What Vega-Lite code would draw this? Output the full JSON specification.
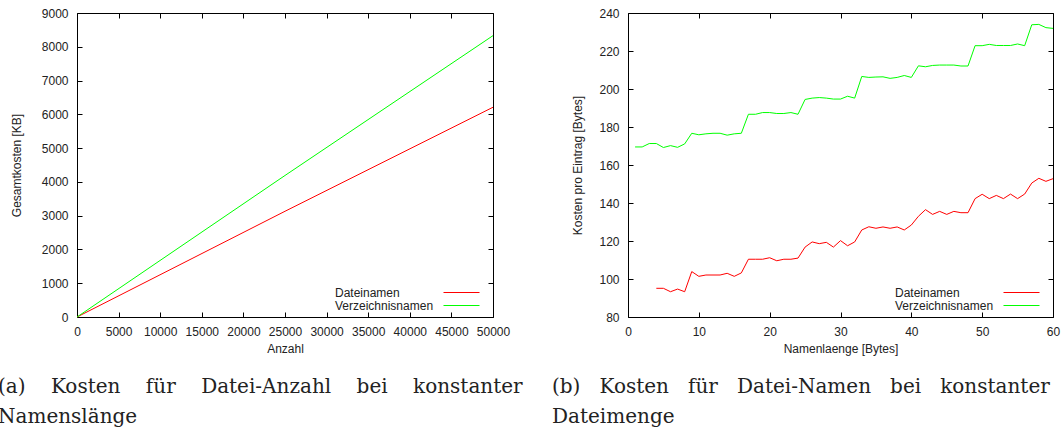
{
  "$schema": "https://vega.github.io/schema/vega-lite/v6.json",
  "background": "white",
  "padding": {"left": -3, "top": 6, "right": 2, "bottom": 0},
  "bounds": "flush",
  "spacing": 135,
  "config": {
    "view": {"stroke": "black", "strokeWidth": 1},
    "axis": {
      "labelFont": "Liberation Sans", "labelFontSize": 12, "labelColor": "#222", "labelOverlap": false, "labelFlush": false,
      "titleFont": "Liberation Sans", "titleFontSize": 12, "titleFontWeight": "normal", "titleColor": "#222",
      "domain": false, "grid": false, "tickColor": "black", "tickSize": -5, "labelPadding": 14
    },
    "legend": {
      "labelFont": "Liberation Sans", "labelFontSize": 12, "labelColor": "#222"
    },
    "title": {"font": "DejaVu Serif", "fontSize": 20, "fontWeight": "normal", "color": "#222"}
  },
  "datasets": {
    "anzahl": [
      {"anzahl": 0, "kosten": 0, "typ": "Dateinamen"},
      {"anzahl": 25000, "kosten": 3130, "typ": "Dateinamen"},
      {"anzahl": 50000, "kosten": 6210, "typ": "Dateinamen"},
      {"anzahl": 0, "kosten": 0, "typ": "Verzeichnisnamen"},
      {"anzahl": 25000, "kosten": 4190, "typ": "Verzeichnisnamen"},
      {"anzahl": 50000, "kosten": 8330, "typ": "Verzeichnisnamen"}
    ],
    "laenge": [
      {"len": 4, "k": 95.1, "typ": "Dateinamen"}, {"len": 5, "k": 95.1, "typ": "Dateinamen"},
      {"len": 6, "k": 93.3, "typ": "Dateinamen"}, {"len": 7, "k": 94.7, "typ": "Dateinamen"},
      {"len": 8, "k": 93.3, "typ": "Dateinamen"}, {"len": 9, "k": 103.9, "typ": "Dateinamen"},
      {"len": 10, "k": 101.4, "typ": "Dateinamen"}, {"len": 11, "k": 102.1, "typ": "Dateinamen"},
      {"len": 12, "k": 102.1, "typ": "Dateinamen"}, {"len": 13, "k": 102.1, "typ": "Dateinamen"},
      {"len": 14, "k": 103.0, "typ": "Dateinamen"}, {"len": 15, "k": 101.4, "typ": "Dateinamen"},
      {"len": 16, "k": 103.2, "typ": "Dateinamen"}, {"len": 17, "k": 110.4, "typ": "Dateinamen"},
      {"len": 18, "k": 110.4, "typ": "Dateinamen"}, {"len": 19, "k": 110.4, "typ": "Dateinamen"},
      {"len": 20, "k": 111.2, "typ": "Dateinamen"}, {"len": 21, "k": 109.6, "typ": "Dateinamen"},
      {"len": 22, "k": 110.4, "typ": "Dateinamen"}, {"len": 23, "k": 110.4, "typ": "Dateinamen"},
      {"len": 24, "k": 111.0, "typ": "Dateinamen"}, {"len": 25, "k": 116.8, "typ": "Dateinamen"},
      {"len": 26, "k": 119.5, "typ": "Dateinamen"}, {"len": 27, "k": 118.6, "typ": "Dateinamen"},
      {"len": 28, "k": 119.3, "typ": "Dateinamen"}, {"len": 29, "k": 116.8, "typ": "Dateinamen"},
      {"len": 30, "k": 120.2, "typ": "Dateinamen"}, {"len": 31, "k": 117.5, "typ": "Dateinamen"},
      {"len": 32, "k": 119.5, "typ": "Dateinamen"}, {"len": 33, "k": 125.8, "typ": "Dateinamen"},
      {"len": 34, "k": 127.5, "typ": "Dateinamen"}, {"len": 35, "k": 126.7, "typ": "Dateinamen"},
      {"len": 36, "k": 127.4, "typ": "Dateinamen"}, {"len": 37, "k": 126.7, "typ": "Dateinamen"},
      {"len": 38, "k": 127.4, "typ": "Dateinamen"}, {"len": 39, "k": 125.8, "typ": "Dateinamen"},
      {"len": 40, "k": 128.4, "typ": "Dateinamen"}, {"len": 41, "k": 133.0, "typ": "Dateinamen"},
      {"len": 42, "k": 136.5, "typ": "Dateinamen"}, {"len": 43, "k": 134.0, "typ": "Dateinamen"},
      {"len": 44, "k": 135.6, "typ": "Dateinamen"}, {"len": 45, "k": 134.0, "typ": "Dateinamen"},
      {"len": 46, "k": 135.6, "typ": "Dateinamen"}, {"len": 47, "k": 134.9, "typ": "Dateinamen"},
      {"len": 48, "k": 134.9, "typ": "Dateinamen"}, {"len": 49, "k": 142.3, "typ": "Dateinamen"},
      {"len": 50, "k": 144.6, "typ": "Dateinamen"}, {"len": 51, "k": 142.3, "typ": "Dateinamen"},
      {"len": 52, "k": 144.0, "typ": "Dateinamen"}, {"len": 53, "k": 142.3, "typ": "Dateinamen"},
      {"len": 54, "k": 144.7, "typ": "Dateinamen"}, {"len": 55, "k": 142.3, "typ": "Dateinamen"},
      {"len": 56, "k": 144.7, "typ": "Dateinamen"}, {"len": 57, "k": 150.5, "typ": "Dateinamen"},
      {"len": 58, "k": 153.0, "typ": "Dateinamen"}, {"len": 59, "k": 151.4, "typ": "Dateinamen"},
      {"len": 60, "k": 152.8, "typ": "Dateinamen"},
      {"len": 1, "k": 169.5, "typ": "Verzeichnisnamen"}, {"len": 2, "k": 169.5, "typ": "Verzeichnisnamen"},
      {"len": 3, "k": 171.3, "typ": "Verzeichnisnamen"}, {"len": 4, "k": 171.3, "typ": "Verzeichnisnamen"},
      {"len": 5, "k": 169.2, "typ": "Verzeichnisnamen"}, {"len": 6, "k": 170.2, "typ": "Verzeichnisnamen"},
      {"len": 7, "k": 169.3, "typ": "Verzeichnisnamen"}, {"len": 8, "k": 171.1, "typ": "Verzeichnisnamen"},
      {"len": 9, "k": 176.7, "typ": "Verzeichnisnamen"}, {"len": 10, "k": 175.9, "typ": "Verzeichnisnamen"},
      {"len": 11, "k": 176.4, "typ": "Verzeichnisnamen"}, {"len": 12, "k": 176.7, "typ": "Verzeichnisnamen"},
      {"len": 13, "k": 176.7, "typ": "Verzeichnisnamen"}, {"len": 14, "k": 175.7, "typ": "Verzeichnisnamen"},
      {"len": 15, "k": 176.4, "typ": "Verzeichnisnamen"}, {"len": 16, "k": 176.7, "typ": "Verzeichnisnamen"},
      {"len": 17, "k": 186.7, "typ": "Verzeichnisnamen"}, {"len": 18, "k": 186.7, "typ": "Verzeichnisnamen"},
      {"len": 19, "k": 187.6, "typ": "Verzeichnisnamen"}, {"len": 20, "k": 187.6, "typ": "Verzeichnisnamen"},
      {"len": 21, "k": 187.1, "typ": "Verzeichnisnamen"}, {"len": 22, "k": 187.1, "typ": "Verzeichnisnamen"},
      {"len": 23, "k": 187.6, "typ": "Verzeichnisnamen"}, {"len": 24, "k": 186.7, "typ": "Verzeichnisnamen"},
      {"len": 25, "k": 194.5, "typ": "Verzeichnisnamen"}, {"len": 26, "k": 195.2, "typ": "Verzeichnisnamen"},
      {"len": 27, "k": 195.5, "typ": "Verzeichnisnamen"}, {"len": 28, "k": 195.2, "typ": "Verzeichnisnamen"},
      {"len": 29, "k": 194.7, "typ": "Verzeichnisnamen"}, {"len": 30, "k": 194.7, "typ": "Verzeichnisnamen"},
      {"len": 31, "k": 196.2, "typ": "Verzeichnisnamen"}, {"len": 32, "k": 195.2, "typ": "Verzeichnisnamen"},
      {"len": 33, "k": 206.6, "typ": "Verzeichnisnamen"}, {"len": 34, "k": 206.1, "typ": "Verzeichnisnamen"},
      {"len": 35, "k": 206.3, "typ": "Verzeichnisnamen"}, {"len": 36, "k": 206.4, "typ": "Verzeichnisnamen"},
      {"len": 37, "k": 205.6, "typ": "Verzeichnisnamen"}, {"len": 38, "k": 206.1, "typ": "Verzeichnisnamen"},
      {"len": 39, "k": 207.1, "typ": "Verzeichnisnamen"}, {"len": 40, "k": 206.1, "typ": "Verzeichnisnamen"},
      {"len": 41, "k": 212.2, "typ": "Verzeichnisnamen"}, {"len": 42, "k": 211.7, "typ": "Verzeichnisnamen"},
      {"len": 43, "k": 212.4, "typ": "Verzeichnisnamen"}, {"len": 44, "k": 212.6, "typ": "Verzeichnisnamen"},
      {"len": 45, "k": 212.6, "typ": "Verzeichnisnamen"}, {"len": 46, "k": 212.6, "typ": "Verzeichnisnamen"},
      {"len": 47, "k": 212.1, "typ": "Verzeichnisnamen"}, {"len": 48, "k": 212.1, "typ": "Verzeichnisnamen"},
      {"len": 49, "k": 222.8, "typ": "Verzeichnisnamen"}, {"len": 50, "k": 222.8, "typ": "Verzeichnisnamen"},
      {"len": 51, "k": 223.5, "typ": "Verzeichnisnamen"}, {"len": 52, "k": 222.9, "typ": "Verzeichnisnamen"},
      {"len": 53, "k": 222.9, "typ": "Verzeichnisnamen"}, {"len": 54, "k": 222.9, "typ": "Verzeichnisnamen"},
      {"len": 55, "k": 223.7, "typ": "Verzeichnisnamen"}, {"len": 56, "k": 222.8, "typ": "Verzeichnisnamen"},
      {"len": 57, "k": 233.8, "typ": "Verzeichnisnamen"}, {"len": 58, "k": 234.0, "typ": "Verzeichnisnamen"},
      {"len": 59, "k": 232.3, "typ": "Verzeichnisnamen"}, {"len": 60, "k": 231.9, "typ": "Verzeichnisnamen"}
    ]
  },
  "resolve": {"scale": {"color": "independent"}, "legend": {"color": "independent"}},
  "hconcat": [
    {
      "width": 416, "height": 304,
      "data": {"name": "anzahl"},
      "title": {"text": ["(a) \u00a0\u00a0\u00a0Kosten \u00a0\u00a0\u00a0für \u00a0\u00a0\u00a0Datei-Anzahl \u00a0\u00a0\u00a0bei \u00a0\u00a0\u00a0konstanter", "Namenslänge"], "orient": "bottom", "anchor": "start", "frame": "group", "dx": -79, "offset": 23, "lineHeight": 30},
      "resolve": {"axis": {"x": "independent", "y": "independent"}},
      "layer": [
        {
          "mark": {"type": "line", "strokeWidth": 1},
          "encoding": {
            "x": {"field": "anzahl", "type": "quantitative", "scale": {"domain": [0, 50000], "nice": false, "zero": false}, "axis": {"title": "Anzahl", "values": [0,5000,10000,15000,20000,25000,30000,35000,40000,45000,50000], "format": "d", "titlePadding": 6}},
            "y": {"field": "kosten", "type": "quantitative", "scale": {"domain": [0, 9000], "nice": false, "zero": false}, "axis": {"title": "Gesamtkosten [KB]", "values": [0,1000,2000,3000,4000,5000,6000,7000,8000,9000], "format": "d", "titlePadding": 18}},
            "color": {"field": "typ", "type": "nominal", "scale": {"domain": ["Dateinamen", "Verzeichnisnamen"], "range": ["#ff0000", "#00ff00"]},
              "legend": {"title": null, "orient": "none", "legendX": 378, "legendY": 273, "symbolType": "M-3,0L3,0", "symbolSize": 144, "symbolStrokeWidth": 1, "labelAlign": "left", "labelOffset": -133, "rowPadding": -2, "padding": 0,
                "encode": {
                  "symbols": {"update": {"stroke": {"signal": "datum.value === 'Dateinamen' ? '#ff0000' : '#00ff00'"}}},
                  "labels": {"update": {"text": {"signal": "datum.value === 'Dateinamen' ? '\u00a0\u00a0\u00a0\u00a0\u00a0\u00a0\u00a0\u00a0\u00a0\u00a0Dateinamen' : datum.value"}}}
                }}}
          }
        },
        {
          "mark": {"type": "line", "strokeWidth": 1, "opacity": 0},
          "encoding": {
            "x": {"field": "anzahl", "type": "quantitative", "scale": {"domain": [0, 50000], "nice": false, "zero": false}, "axis": {"orient": "top", "labels": false, "title": null, "values": [0,5000,10000,15000,20000,25000,30000,35000,40000,45000,50000]}},
            "y": {"field": "kosten", "type": "quantitative", "scale": {"domain": [0, 9000], "nice": false, "zero": false}, "axis": {"orient": "right", "labels": false, "title": null, "values": [0,1000,2000,3000,4000,5000,6000,7000,8000,9000]}}
          }
        }
      ]
    },
    {
      "width": 425, "height": 304,
      "data": {"name": "laenge"},
      "title": {"text": ["(b) \u00a0\u00a0Kosten \u00a0\u00a0für \u00a0\u00a0Datei-Namen \u00a0\u00a0bei \u00a0\u00a0konstanter", "Dateimenge"], "orient": "bottom", "anchor": "start", "frame": "group", "dx": -76, "offset": 23, "lineHeight": 30},
      "resolve": {"axis": {"x": "independent", "y": "independent"}},
      "layer": [
        {
          "mark": {"type": "line", "strokeWidth": 1},
          "encoding": {
            "x": {"field": "len", "type": "quantitative", "scale": {"domain": [0, 60], "nice": false, "zero": false}, "axis": {"title": "Namenlaenge [Bytes]", "values": [0,10,20,30,40,50,60], "titlePadding": 6}},
            "y": {"field": "k", "type": "quantitative", "scale": {"domain": [80, 240], "nice": false, "zero": false}, "axis": {"title": "Kosten pro Eintrag [Bytes]", "values": [80,100,120,140,160,180,200,220,240], "titlePadding": 14}},
            "color": {"field": "typ", "type": "nominal", "scale": {"domain": ["Dateinamen", "Verzeichnisnamen"], "range": ["#ff0000", "#00ff00"]},
              "legend": {"title": null, "orient": "none", "legendX": 387, "legendY": 273, "symbolType": "M-3,0L3,0", "symbolSize": 144, "symbolStrokeWidth": 1, "labelAlign": "left", "labelOffset": -133, "rowPadding": -2, "padding": 0,
                "encode": {
                  "symbols": {"update": {"stroke": {"signal": "datum.value === 'Dateinamen' ? '#ff0000' : '#00ff00'"}}},
                  "labels": {"update": {"text": {"signal": "datum.value === 'Dateinamen' ? '\u00a0\u00a0\u00a0\u00a0\u00a0\u00a0\u00a0\u00a0\u00a0\u00a0Dateinamen' : datum.value"}}}
                }}}
          }
        },
        {
          "mark": {"type": "line", "strokeWidth": 1, "opacity": 0},
          "encoding": {
            "x": {"field": "len", "type": "quantitative", "scale": {"domain": [0, 60], "nice": false, "zero": false}, "axis": {"orient": "top", "labels": false, "title": null, "values": [0,10,20,30,40,50,60]}},
            "y": {"field": "k", "type": "quantitative", "scale": {"domain": [80, 240], "nice": false, "zero": false}, "axis": {"orient": "right", "labels": false, "title": null, "values": [80,100,120,140,160,180,200,220,240]}}
          }
        }
      ]
    }
  ]
}
